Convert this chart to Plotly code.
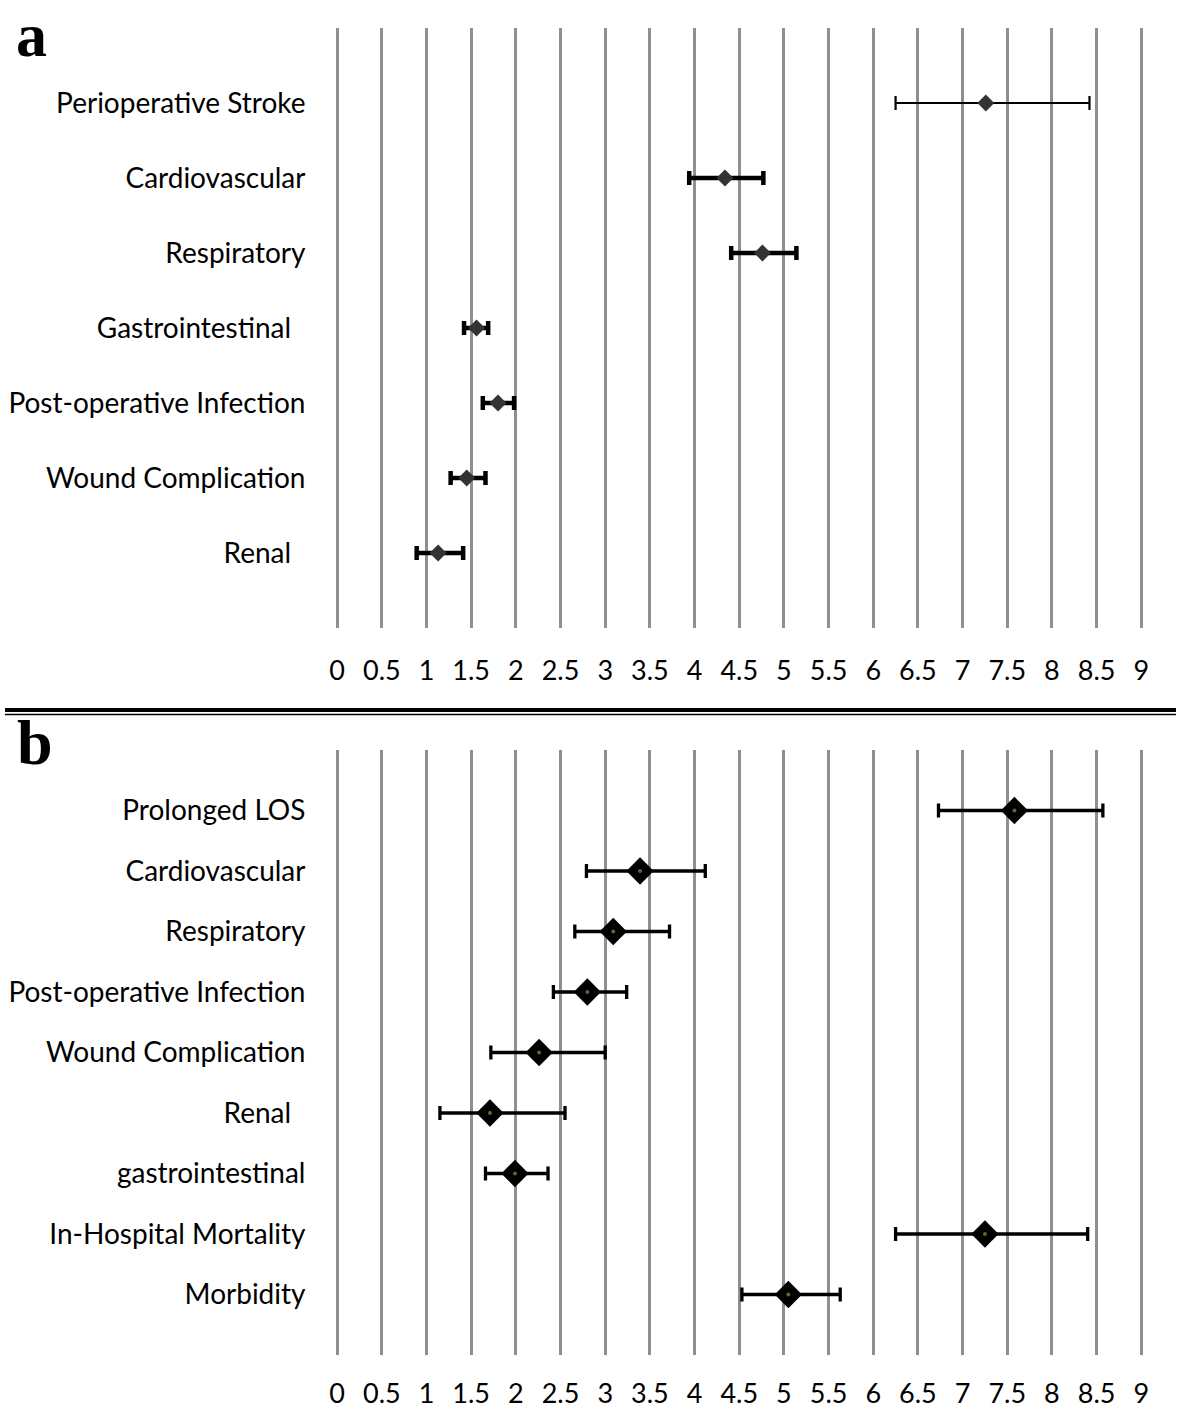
import plotly.graph_objects as go

# ---------------- data ----------------
x_ticks = [0, 0.5, 1, 1.5, 2, 2.5, 3, 3.5, 4, 4.5, 5, 5.5, 6, 6.5, 7, 7.5, 8, 8.5, 9]
x_tick_text = ["0", "0.5", "1", "1.5", "2", "2.5", "3", "3.5", "4", "4.5", "5",
               "5.5", "6", "6.5", "7", "7.5", "8", "8.5", "9"]

a_labels = ["Perioperative Stroke", "Cardiovascular", "Respiratory",
            "Gastrointestinal\u00a0\u00a0", "Post-operative Infection",
            "Wound Complication", "Renal\u00a0\u00a0"]
a_or = [7.26, 4.34, 4.76, 1.56, 1.80, 1.45, 1.13]
a_lo = [6.25, 3.94, 4.41, 1.42, 1.63, 1.27, 0.89]
a_hi = [8.42, 4.77, 5.14, 1.69, 1.98, 1.66, 1.41]

b_labels = ["Prolonged LOS", "Cardiovascular", "Respiratory",
            "Post-operative Infection", "Wound Complication", "Renal\u00a0\u00a0",
            "gastrointestinal", "In-Hospital Mortality", "Morbidity"]
b_or = [7.58, 3.39, 3.09, 2.80, 2.26, 1.71, 1.99, 7.25, 5.05]
b_lo = [6.73, 2.79, 2.66, 2.42, 1.72, 1.15, 1.66, 6.25, 4.53]
b_hi = [8.57, 4.12, 3.72, 3.24, 3.00, 2.55, 2.36, 8.40, 5.63]

# ---------------- figure ----------------
W, H = 1181, 1419
FONT = "Lato"
GRID = "#8f8f8f"

a_pos = list(range(len(a_labels), 0, -1))
b_pos = list(range(len(b_labels), 0, -1))

fig = go.Figure()

def add_rows(idx, orv, lo, hi, pos, xa, ya, thick, msize, mcolor):
    fig.add_trace(go.Scatter(
        x=[orv[i] for i in idx], y=[pos[i] for i in idx],
        mode="markers", xaxis=xa, yaxis=ya, showlegend=False,
        marker=dict(symbol="diamond", size=msize, color=mcolor),
        error_x=dict(type="data", symmetric=False,
                     array=[hi[i] - orv[i] for i in idx],
                     arrayminus=[orv[i] - lo[i] for i in idx],
                     color="black", thickness=thick, width=7),
        hoverinfo="skip"))

# panel a: first row has a thinner bar
add_rows([0], a_or, a_lo, a_hi, a_pos, "x", "y", 2.2, 13, "#333333")
add_rows(list(range(1, len(a_labels))), a_or, a_lo, a_hi, a_pos, "x", "y", 4.5, 13, "#333333")

# panel b
add_rows(list(range(len(b_labels))), b_or, b_lo, b_hi, b_pos, "x2", "y2", 3.3, 21, "black")
fig.add_trace(go.Scatter(x=b_or, y=b_pos, mode="markers", xaxis="x2", yaxis="y2",
                         showlegend=False, hoverinfo="skip",
                         marker=dict(symbol="circle", size=4, color="#4e6e2c")))

xdom = [332.3 / W, 1148.7 / W]
xaxis_common = dict(range=[-0.03, 9.03], tickvals=x_ticks, ticktext=x_tick_text,
                    showgrid=True, gridcolor=GRID, gridwidth=3, zeroline=False,
                    showline=False, ticks="", fixedrange=True,
                    tickfont=dict(family=FONT, size=27, color="black"))
yaxis_common = dict(showgrid=False, zeroline=False, showline=False, ticks="",
                    ticklabelstandoff=28, fixedrange=True,
                    tickfont=dict(family=FONT, size=28, color="black"))

fig.update_layout(
    width=W, height=H, margin=dict(l=0, r=0, t=0, b=0),
    paper_bgcolor="white", plot_bgcolor="white",
    xaxis=dict(domain=xdom, anchor="y", ticklabelstandoff=24, **xaxis_common),
    yaxis=dict(domain=[1 - 628 / H, 1 - 28 / H], anchor="x", range=[0, 8],
               tickvals=a_pos, ticktext=a_labels, **yaxis_common),
    xaxis2=dict(domain=xdom, anchor="y2", ticklabelstandoff=20, **xaxis_common),
    yaxis2=dict(domain=[1 - 1355 / H, 1 - 750 / H], anchor="x2", range=[0, 10],
                tickvals=b_pos, ticktext=b_labels, **yaxis_common),
    shapes=[
        dict(type="line", xref="paper", yref="paper", x0=0, x1=1,
             y0=1 - 710 / H, y1=1 - 710 / H, line=dict(color="black", width=4)),
        dict(type="line", xref="paper", yref="paper", x0=0, x1=1,
             y0=1 - 714.5 / H, y1=1 - 714.5 / H, line=dict(color="black", width=1.5)),
    ],
    annotations=[
        dict(text="<b>a</b>", x=10 / W, y=1.0, xref="paper", yref="paper",
             xanchor="left", yanchor="top", showarrow=False, borderpad=0,
             font=dict(family="Liberation Serif", size=62, color="black")),
        dict(text="<b>b</b>", x=10 / W, y=1 - 742 / H, xref="paper", yref="paper",
             xanchor="left", yanchor="middle", showarrow=False,
             font=dict(family="Liberation Serif", size=64, color="black")),
    ],
)

fig.write_html("out.html", config={"displayModeBar": False},
               post_script="document.body.style.margin='0px';document.body.style.overflow='hidden';")
